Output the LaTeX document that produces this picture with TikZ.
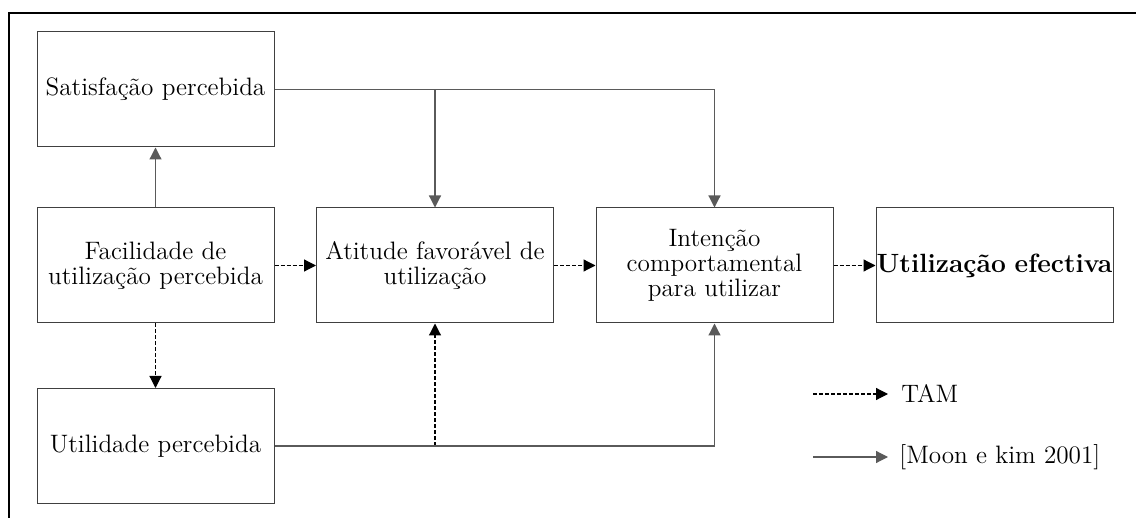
\documentclass[tikz,border=0pt]{standalone}
\usetikzlibrary{arrows.meta}
\definecolor{boxline}{HTML}{404040}
\definecolor{linkline}{HTML}{5A5A5A}
\tikzset{
  stage/.style={draw=boxline, line width=0.5pt, minimum width=118.5pt, minimum height=57.5pt,
    text width=116pt, align=center, inner sep=0pt, font=\fontsize{12.6pt}{12.5pt}\selectfont},
  tip/.style={-{Triangle[length=6pt,width=6pt]}},
  tamlink/.style={tip, draw=black, line width=0.6pt, dash pattern=on 2pt off 1pt},
  moonlink/.style={tip, draw=linkline, line width=0.6pt},
  legendtext/.style={anchor=west, inner sep=0pt, font=\fontsize{12.6pt}{12.5pt}\selectfont}
}
\begin{document}
\begin{tikzpicture}[x=0.5pt, y=-0.5pt]
  \useasboundingbox (0,0) rectangle (1136,518);
  % outer frame (top and left edges)
  \draw[line width=1.1pt] (9,518) -- (9,13) -- (1136,13);

  % stages
  \node[stage] (sat) at (155.5,89.5) {Satisfação percebida};
  \node[stage] (fac) at (155.5,265.5) {Facilidade de\\utilização percebida};
  \node[stage] (uti) at (155.5,446) {Utilidade percebida};
  \node[stage] (ati) at (435,265.5) {Atitude favorável de\\utilização};
  \node[stage] (int) at (714.5,265.5) {Intenção\\comportamental\\para utilizar};
  \node[stage, text width=118pt, font=\fontsize{13.2pt}{14pt}\bfseries] (eff) at (994.5,265.5) {Utilização efectiva};

  % TAM relations
  \draw[tamlink] (fac.east) -- (ati.west);
  \draw[tamlink] (ati.east) -- (int.west);
  \draw[tamlink] (int.east) -- (eff.west);
  \draw[tamlink] (fac.south) -- (uti.north);
  \draw[tamlink] (uti.east -| ati.south) -- (ati.south);

  % Moon & Kim relations
  \draw[moonlink] (fac.north) -- (sat.south);
  \draw[moonlink] (sat.east) -| (int.north);
  \draw[moonlink] (sat.east -| ati.north) -- (ati.north);
  \draw[moonlink] (uti.east) -| (int.south);

  % legend
  \coordinate (tamA) at (813,394);
  \coordinate (tamB) at (888,394);
  \coordinate (moonA) at (813,457);
  \coordinate (moonB) at (888,457);
  \draw[tamlink] (tamA) -- (tamB);
  \draw[moonlink] (moonA) -- (moonB);
  \node[legendtext] (tamlabel) at (901,394) {TAM};
  \node[legendtext] (moonlabel) at (899,457) {[Moon e kim 2001]};
\end{tikzpicture}
\end{document}
